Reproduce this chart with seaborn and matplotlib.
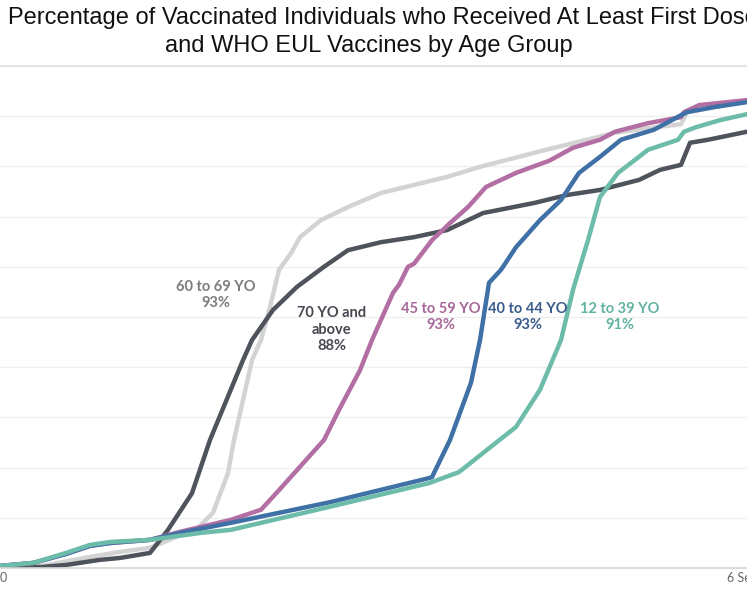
import matplotlib
matplotlib.use("Agg")
import matplotlib.pyplot as plt
import seaborn as sns
import pandas as pd

# days since start of the plotted window, percent of individuals vaccinated
days_12_39 = [0, 11, 22, 30, 37, 50, 67, 77, 110, 143, 153, 161, 172, 180, 187, 191,
              196, 200, 206, 213, 216, 226, 228, 232, 240, 249]
pct_12_39 = [0.4, 1.0, 3.0, 4.6, 5.2, 5.6, 7.0, 7.6, 12.2, 16.9, 19.1, 22.9, 28.1, 35.5,
             45.4, 55.4, 65.3, 73.9, 78.7, 81.9, 83.3, 85.3, 86.9, 87.8, 89.2, 90.4]

days_40_44 = [0, 11, 22, 30, 37, 50, 60, 77, 110, 143, 144, 150, 157, 160, 163, 167,
              172, 180, 187, 193, 200, 207, 218, 227, 229, 238, 249]
pct_40_44 = [0.4, 1.0, 2.8, 4.4, 5.0, 5.6, 7.0, 9.0, 13.1, 17.9, 18.1, 25.5, 36.9, 45.4,
             56.8, 59.4, 63.9, 69.3, 73.3, 78.7, 81.9, 85.3, 87.3, 90.2, 90.8, 91.8, 92.8]

days_45_59 = [0, 11, 22, 30, 37, 50, 60, 77, 87, 93, 99, 108, 113, 120, 124, 131, 133,
              136, 138, 144, 150, 156, 162, 172, 183, 191, 200, 205, 216, 227, 228, 233, 249]
pct_45_59 = [0.4, 1.0, 2.8, 4.4, 5.0, 5.6, 7.2, 9.6, 11.6, 15.5, 19.5, 25.5, 31.5, 39.4,
             45.4, 54.8, 56.4, 60.0, 60.6, 65.3, 68.7, 71.9, 75.9, 78.7, 81.1, 83.7, 85.3,
             86.9, 88.6, 89.8, 90.8, 92.2, 93.2]

days_60_69 = [0, 14, 28, 40, 50, 66, 71, 76, 78, 84, 87, 90, 93, 97, 100, 107, 116, 127,
              138, 149, 160, 182, 193, 205, 216, 227, 229, 249]
pct_60_69 = [0.4, 0.4, 2.0, 3.2, 4.0, 8.0, 11.0, 18.9, 25.5, 41.4, 45.4, 52.0, 59.4, 62.7,
             65.9, 69.3, 71.9, 74.7, 76.3, 77.9, 79.9, 83.3, 84.9, 86.7, 87.6, 88.4, 90.8, 93.0]

days_70 = [0, 14, 22, 33, 40, 50, 56, 64, 70, 81, 84, 91, 99, 108, 116, 127, 138, 149,
           161, 178, 189, 200, 213, 220, 227, 230, 236, 249]
pct_70 = [0.0, 0.2, 0.6, 1.6, 2.0, 3.0, 7.6, 14.9, 25.5, 41.4, 45.4, 51.4, 56.0, 60.0,
          63.3, 64.9, 65.9, 67.3, 70.7, 72.7, 74.3, 75.3, 77.3, 79.3, 80.3, 84.7, 85.3, 86.9]

groups = ["60 to 69 YO", "70 YO and above", "45 to 59 YO", "40 to 44 YO", "12 to 39 YO"]
final_pct = ["93%", "88%", "93%", "93%", "91%"]
tick_days = [1, 247.5]
tick_labels = ["0", "6 Sep"]

line_colors = {"60 to 69 YO": "#d3d3d3", "70 YO and above": "#4f535b",
               "45 to 59 YO": "#b36ea3", "40 to 44 YO": "#3f70a6",
               "12 to 39 YO": "#6dbcaa"}
text_colors = {"60 to 69 YO": "#7c7c7c", "70 YO and above": "#45484f",
               "45 to 59 YO": "#a8679a", "40 to 44 YO": "#3a5d8d",
               "12 to 39 YO": "#62b3a2"}

series = {
    "60 to 69 YO": (days_60_69, pct_60_69),
    "70 YO and above": (days_70, pct_70),
    "45 to 59 YO": (days_45_59, pct_45_59),
    "40 to 44 YO": (days_40_44, pct_40_44),
    "12 to 39 YO": (days_12_39, pct_12_39),
}
frames = []
for g in groups:
    d, p = series[g]
    frames.append(pd.DataFrame({"day": d, "pct": p, "group": g}))
df = pd.concat(frames, ignore_index=True)

sns.set_style("white")
fig = plt.figure(figsize=(7.47, 5.98), dpi=100)
ax = fig.add_axes([0.0, 0.0502, 1.0, 0.8395])

for g in groups:
    sns.lineplot(data=df[df["group"] == g], x="day", y="pct", color=line_colors[g],
                 linewidth=3.2, sort=False, estimator=None, ax=ax, legend=False)

ax.set_xlim(0, 249)
ax.set_ylim(0, 100)
ax.set_yticks(range(0, 101, 10))
ax.set_yticklabels([])
ax.yaxis.grid(True, color="#eeeeee", linewidth=0.9)
ax.set_axisbelow(True)
ax.tick_params(axis="y", length=0)
ax.set_xticks(tick_days)
ax.set_xticklabels(tick_labels, fontsize=9, color="#666666", family="Lato")
ax.tick_params(axis="x", length=0, pad=3)
ax.set_xlabel("")
ax.set_ylabel("")
for s in ["left", "right"]:
    ax.spines[s].set_visible(False)
ax.spines["bottom"].set_color("#d6d6d6")
ax.spines["bottom"].set_linewidth(1.2)
ax.spines["top"].set_color("#e4e4e4")
ax.spines["top"].set_linewidth(1.6)

# end-of-period labels
label_pos = {"60 to 69 YO": (72, 54.3), "70 YO and above": (110.5, 47.5),
             "45 to 59 YO": (147, 50.0), "40 to 44 YO": (176, 50.0),
             "12 to 39 YO": (206.5, 50.0)}
for g, val in zip(groups, final_pct):
    name = "70 YO and\nabove" if g == "70 YO and above" else g
    x, y = label_pos[g]
    ax.text(x, y, name + "\n" + val, ha="center", va="center", fontsize=10.5,
            color=text_colors[g], family="Lato", fontweight="bold", linespacing=1.2)

fig.text(8 / 747, 1 - 24 / 598, "Percentage of Vaccinated Individuals who Received At Least First Dose",
         ha="left", va="baseline", fontsize=17, family="Liberation Sans", color="#111111")
fig.text(369 / 747, 1 - 52 / 598, "and WHO EUL Vaccines by Age Group",
         ha="center", va="baseline", fontsize=17, family="Liberation Sans", color="#111111")

fig.savefig("out.png", dpi=100)
